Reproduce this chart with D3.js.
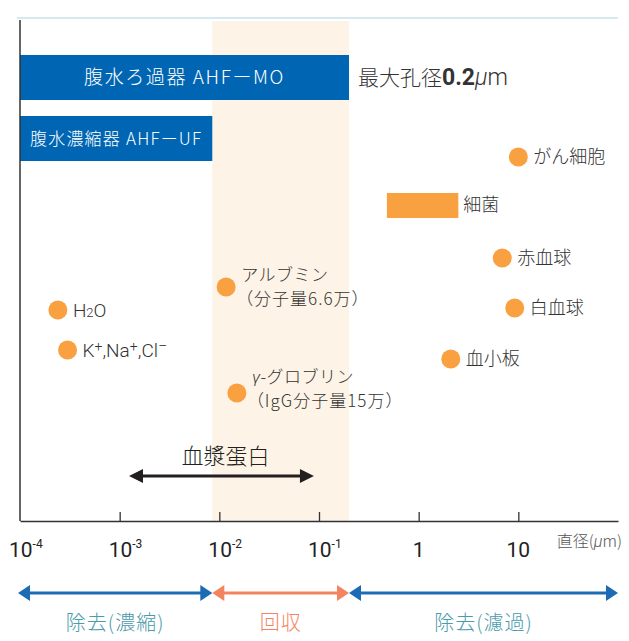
<!DOCTYPE html>
<html><head><meta charset="utf-8">
<script src="https://cdn.jsdelivr.net/npm/d3@7"></script>
<style>
html,body{margin:0;padding:0;background:#fff;}
svg{display:block;font-family:"Noto Sans CJK JP","Noto Sans",sans-serif;}
</style></head>
<body>
<script>
// ---- data ----
const xTicks = [1e-4, 1e-3, 1e-2, 1e-1, 1, 10];
const tickBase = ["10", "10", "10", "10", "1", "10"];
const tickExp = ["-4", "-3", "-2", "-1", "", ""];
const axisUnit = ["直径(", "μ", "m)"];

const recoverRange = [0.0085, 0.2];

const filterNames = ["腹水ろ過器 AHFーMO", "腹水濃縮器 AHFーUF"];
const filterMax = [0.2, 0.0085];
const filterLevels = [8.87, 7.65];
const poreText = ["最大孔径", "0.2", "μm"];

const particleNames = ["がん細胞", "赤血球", "白血球", "血小板", "アルブミン", "γ-グロブリン", "H2O", "K+,Na+,Cl−"];
const particleSizes = [10, 6.9, 9.2, 2.1, 0.0117, 0.015, 2.4e-4, 3.0e-4];
const particleLevels = [7.28, 5.26, 4.26, 3.24, 4.68, 2.56, 4.22, 3.42];
const particleNotes = ["", "", "", "", "（分子量6.6万）", "（IgG分子量15万）", "", ""];

const bacteriaName = "細菌";
const bacteriaRange = [0.48, 2.5];
const bacteriaLevel = 6.32;

const plasmaName = "血漿蛋白";
const plasmaRange = [1.24e-3, 0.089];
const plasmaLevel = 0.9;

const zoneNames = ["除去(濃縮)", "回収", "除去(濾過)"];
const zoneBounds = [1e-4, 0.0085, 0.2, 100];

// ---- setup ----
const W = 629, H = 641;
const svg = d3.select("body").append("svg").attr("width", W).attr("height", H);
const x = d3.scaleLog().domain([1e-4, 100]).range([20, 618]);
const y = d3.scaleLinear().domain([0, 10]).range([521, 21]);

const BLUE = "#0066b3", ORANGE = "#f9a041", TXT = "#333";
const LIGHT = 300;

// top rule
svg.append("line").attr("x1", 17).attr("x2", 618).attr("y1", 18).attr("y2", 18)
  .attr("stroke", "#a9d5e2").attr("stroke-width", 1);

// recover band
svg.append("rect").attr("x", x(recoverRange[0])).attr("y", y(10))
  .attr("width", x(recoverRange[1]) - x(recoverRange[0])).attr("height", y(0) - y(10))
  .attr("fill", "#fdf3e6");

// filter bars
const barFont = [19, 17];
filterNames.forEach((n, i) => {
  const x0 = x(1e-4), x1 = x(filterMax[i]);
  svg.append("rect").attr("x", x0).attr("y", y(filterLevels[i] + 0.45))
    .attr("width", x1 - x0).attr("height", y(filterLevels[i] - 0.45) - y(filterLevels[i] + 0.45))
    .attr("fill", BLUE);
  svg.append("text").attr("x", (x0 + x1) / 2).attr("y", y(filterLevels[i]))
    .attr("dy", "0.36em").attr("text-anchor", "middle").attr("fill", "#fff")
    .attr("font-weight", LIGHT).attr("letter-spacing", i === 0 ? 1.6 : 1.2)
    .attr("font-size", barFont[i]).text(n);
});
const pt = svg.append("text").attr("x", x(0.2) + 9).attr("y", y(filterLevels[0])).attr("dy", "0.36em")
  .attr("fill", TXT).attr("font-size", 21).attr("font-weight", LIGHT);
pt.append("tspan").text(poreText[0]);
pt.append("tspan").attr("font-weight", "bold").attr("font-family", "Roboto").attr("font-size", 23).text(poreText[1]);
pt.append("tspan").attr("font-family", "Roboto").attr("font-style", "italic").attr("font-size", 23).text(poreText[2].slice(0,1));
pt.append("tspan").attr("font-family", "Roboto").attr("font-size", 23).text(poreText[2].slice(1));

// axes
svg.append("line").attr("x1", 20).attr("x2", 20).attr("y1", 20).attr("y2", y(0))
  .attr("stroke", "#333").attr("stroke-width", 1.5);
const ax = svg.append("g").attr("transform", `translate(0,${y(0)})`)
  .call(d3.axisBottom(x).tickValues(xTicks).tickSizeInner(-9).tickSizeOuter(0).tickFormat(""));
ax.select(".domain").attr("stroke", "#333").attr("stroke-width", 1.5);
ax.selectAll(".tick line").attr("stroke", "#333").attr("stroke-width", 1.3);
ax.selectAll(".tick").filter(d => d === 1e-4).select("line").remove();

xTicks.forEach((v, i) => {
  const t = svg.append("text").attr("y", 557).attr("fill", "#222")
    .attr("font-family", "Roboto").attr("font-size", 21);
  if (tickExp[i]) {
    t.attr("x", x(v) - 11);
    t.append("tspan").text(tickBase[i]);
    t.append("tspan").attr("font-size", 12).attr("dy", -9).text(tickExp[i]);
  } else {
    t.attr("x", x(v)).attr("text-anchor", "middle").text(tickBase[i]);
  }
});
const ut = svg.append("text").attr("x", 622).attr("y", 547).attr("text-anchor", "end")
  .attr("fill", "#555").attr("font-size", 16).attr("font-weight", LIGHT);
ut.append("tspan").text(axisUnit[0]);
ut.append("tspan").attr("font-style", "italic").attr("font-family", "Roboto").text(axisUnit[1]);
ut.append("tspan").text(axisUnit[2]);

// bacteria bar
svg.append("rect").attr("x", x(bacteriaRange[0])).attr("y", y(bacteriaLevel) - 12)
  .attr("width", x(bacteriaRange[1]) - x(bacteriaRange[0])).attr("height", 25).attr("fill", ORANGE);
svg.append("text").attr("x", x(bacteriaRange[1]) + 5).attr("y", y(bacteriaLevel)).attr("dy", "0.36em")
  .attr("fill", TXT).attr("font-size", 18).attr("font-weight", LIGHT).text(bacteriaName);

// particles
particleNames.forEach((n, i) => {
  const cx = x(particleSizes[i]), cy = y(particleLevels[i]);
  svg.append("circle").attr("cx", cx).attr("cy", cy).attr("r", 9.5).attr("fill", ORANGE);
  const lx = cx + 15;
  if (particleNotes[i]) {
    const up = n === "アルブミン" ? 12 : 16;
    const l1 = svg.append("text").attr("x", lx).attr("y", cy - up).attr("dy", "0.36em")
      .attr("fill", TXT).attr("font-size", 17).attr("font-weight", LIGHT).attr("letter-spacing", 0.5);
    if (n.startsWith("γ")) {
      l1.append("tspan").attr("font-style", "italic").attr("font-family", "Roboto").text("γ");
      l1.append("tspan").text(n.slice(1));
    } else {
      l1.text(n);
    }
    svg.append("text").attr("x", lx - 5).attr("y", cy + (n === "アルブミン" ? 12 : 8)).attr("dy", "0.36em")
      .attr("fill", TXT).attr("font-size", 17).attr("font-weight", LIGHT).attr("letter-spacing", 1)
      .text(particleNotes[i]);
  } else if (n === "H2O") {
    const t = svg.append("text").attr("x", lx).attr("y", cy).attr("dy", "0.36em")
      .attr("fill", TXT).attr("font-size", 19).attr("font-family", "Roboto").attr("font-weight", LIGHT);
    t.append("tspan").text("H");
    t.append("tspan").attr("font-size", 13).text("2");
    t.append("tspan").text("O");
  } else if (n.startsWith("K+")) {
    const t = svg.append("text").attr("x", lx).attr("y", cy).attr("dy", "0.36em")
      .attr("fill", TXT).attr("font-size", 19).attr("font-family", "Roboto").attr("font-weight", LIGHT);
    t.append("tspan").text("K");
    t.append("tspan").attr("font-size", 14).attr("dy", -6).text("+");
    t.append("tspan").attr("dy", 6).text(",Na");
    t.append("tspan").attr("font-size", 14).attr("dy", -6).text("+");
    t.append("tspan").attr("dy", 6).text(",Cl");
    t.append("tspan").attr("font-size", 16).attr("dy", -6).text("−");
  } else {
    svg.append("text").attr("x", lx).attr("y", cy).attr("dy", "0.36em")
      .attr("fill", TXT).attr("font-size", 18).attr("font-weight", LIGHT).text(n);
  }
});

// double arrow helper
function dblArrow(x0, x1, yy, color, w, hl, hw) {
  const g = svg.append("g");
  g.append("line").attr("x1", x0 + hl - 1).attr("x2", x1 - hl + 1).attr("y1", yy).attr("y2", yy)
    .attr("stroke", color).attr("stroke-width", w);
  g.append("path").attr("d", `M${x0},${yy}L${x0 + hl},${yy - hw}L${x0 + hl},${yy + hw}Z`).attr("fill", color);
  g.append("path").attr("d", `M${x1},${yy}L${x1 - hl},${yy - hw}L${x1 - hl},${yy + hw}Z`).attr("fill", color);
}

// plasma protein
dblArrow(x(plasmaRange[0]), x(plasmaRange[1]), y(plasmaLevel), "#231f20", 3, 14, 7);
svg.append("text").attr("x", (x(plasmaRange[0]) + x(plasmaRange[1])) / 2 + 4).attr("y", y(plasmaLevel) - 20)
  .attr("dy", "0.36em").attr("text-anchor", "middle").attr("fill", "#231f20")
  .attr("font-size", 22).attr("font-weight", LIGHT).text(plasmaName);

// zones
const zoneColors = ["#1b6cb4", "#f4845f", "#1b6cb4"];
const zoneText = ["#4a9bab", "#f4845f", "#4a9bab"];
for (let i = 0; i < 3; i++) {
  const a = i === 0 ? 18 : x(zoneBounds[i]);
  const b = x(zoneBounds[i + 1]);
  dblArrow(a, b, 593, zoneColors[i], 3, 12, 8);
  svg.append("text").attr("x", (a + b) / 2).attr("y", 623).attr("dy", "0.36em")
    .attr("text-anchor", "middle").attr("fill", zoneText[i]).attr("font-size", 20)
    .attr("letter-spacing", 1).attr("font-weight", LIGHT).text(zoneNames[i]);
}
</script>
</body></html>
